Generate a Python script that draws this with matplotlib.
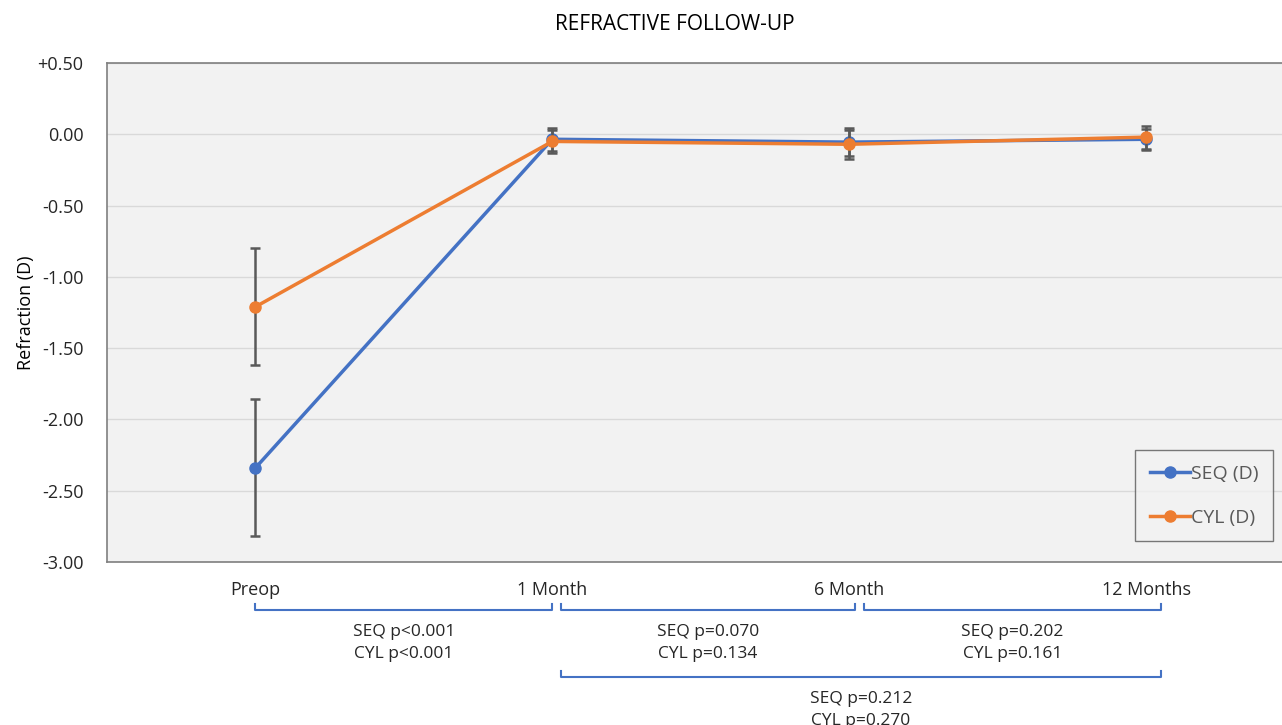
import matplotlib
matplotlib.use("Agg")
import matplotlib.pyplot as plt
import matplotlib.transforms as mtransforms
from matplotlib.lines import Line2D
import numpy as np

plt.rcParams['font.family'] = ['Open Sans', 'DejaVu Sans']

# data
timepoints = ['Preop', '1 Month', '6 Month', '12 Months']
seq_mean = [-2.34, -0.035, -0.055, -0.035]
seq_err = [0.48, 0.08, 0.10, 0.075]
cyl_mean = [-1.21, -0.05, -0.07, -0.02]
cyl_err = [0.41, 0.08, 0.10, 0.08]

ytick_vals = [0.5, 0.0, -0.5, -1.0, -1.5, -2.0, -2.5, -3.0]
ytick_labels = ['+0.50', '0.00', '-0.50', '-1.00', '-1.50', '-2.00', '-2.50', '-3.00']

# p-value brackets: (start, end, SEQ text, CYL text)
brackets = [
    (0.0, 1.0, 'SEQ p<0.001', 'CYL p<0.001'),
    (1.03, 2.02, 'SEQ p=0.070', 'CYL p=0.134'),
    (2.05, 3.05, 'SEQ p=0.202', 'CYL p=0.161'),
    (1.03, 3.05, 'SEQ p=0.212', 'CYL p=0.270'),
]
bracket_rows = [0, 0, 0, 1]

blue = '#4472C4'
orange = '#ED7D31'
errc = '#595959'

W, H = 1282, 725
fig = plt.figure(figsize=(W / 100, H / 100), dpi=100)
ax = fig.add_axes([107 / W, 1 - 562 / H, (1294.5 - 107) / W, 499 / H])
ax.set_facecolor('#F2F2F2')

x = np.arange(len(timepoints))
ax.errorbar(x, seq_mean, yerr=seq_err, color=blue, ecolor=errc, elinewidth=1.8,
            capsize=3.5, capthick=1.8, lw=2.5, marker='o', ms=8, zorder=3)
ax.errorbar(x, cyl_mean, yerr=cyl_err, color=orange, ecolor=errc, elinewidth=1.8,
            capsize=3.5, capthick=1.8, lw=2.5, marker='o', ms=8, zorder=4)

ax.set_xlim(-0.5, 3.5)
ax.set_ylim(-3.0, 0.5)
ax.set_xticks(x)
ax.set_xticklabels(timepoints, fontsize=13, color='#262626')
ax.set_yticks(ytick_vals)
ax.set_yticklabels(ytick_labels, fontsize=13, color='#262626')
ax.tick_params(axis='y', length=0, pad=17)
ax.tick_params(axis='x', length=0, pad=14)
ax.grid(axis='y', color='#D9D9D9', lw=1)
ax.set_axisbelow(True)
for s in ax.spines.values():
    s.set_color('#7F7F7F')
    s.set_linewidth(1.2)
ax.set_ylabel('Refraction (D)', fontsize=13, color='#000000', labelpad=2)
fig.text(675 / W, 1 - 24 / H, 'REFRACTIVE FOLLOW-UP', ha='center', va='center',
         fontsize=15, color='#000000')

handles = [Line2D([], [], color=blue, lw=2.5, marker='o', ms=8),
           Line2D([], [], color=orange, lw=2.5, marker='o', ms=8)]
leg = ax.legend(handles, ['SEQ (D)', 'CYL (D)'], loc='upper left',
                bbox_to_anchor=(1135 / W, 1 - 450 / H),
                bbox_transform=fig.transFigure, frameon=True, fancybox=False,
                fontsize=14, labelspacing=1.35, handlelength=2.1, handletextpad=0.05,
                borderpad=0.75, borderaxespad=0)
leg.get_frame().set_edgecolor('#595959')
leg.get_frame().set_facecolor('#F2F2F2')
leg.get_frame().set_linewidth(1.0)
for t in leg.get_texts():
    t.set_color('#595959')

trans = mtransforms.blended_transform_factory(ax.transData, fig.transFigure)
row_y = [610, 677]
for (x0, x1, t1, t2), r in zip(brackets, bracket_rows):
    yb = 1 - row_y[r] / H
    yt = 1 - (row_y[r] - 6) / H
    ax.plot([x0, x0, x1, x1], [yt, yb, yb, yt], color=blue, lw=1.5,
            transform=trans, clip_on=False)
    xm = (x0 + x1) / 2
    ax.text(xm, 1 - (row_y[r] + 22) / H, t1, transform=trans, ha='center',
            va='center', fontsize=12.5, color='#262626')
    ax.text(xm, 1 - (row_y[r] + 44) / H, t2, transform=trans, ha='center',
            va='center', fontsize=12.5, color='#262626')

fig.savefig('out.png', dpi=100)
